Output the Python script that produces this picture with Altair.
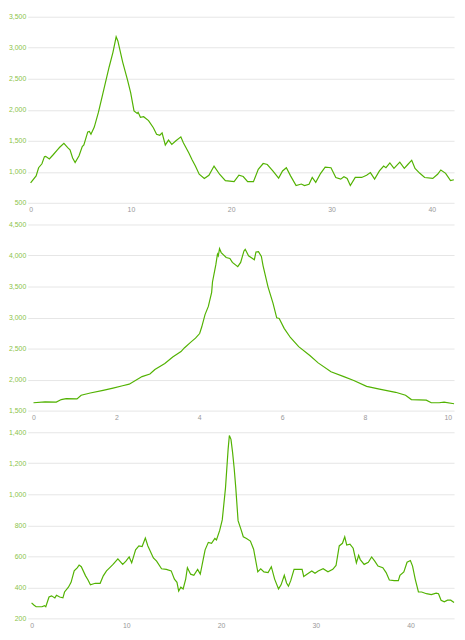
import altair as alt
import pandas as pd

# ---- Profile 1 ----
km1 = [0.0, 0.55, 0.8, 1.13, 1.38, 1.5, 1.87, 2.25, 2.67, 2.9, 3.32, 3.7, 3.93, 4.19, 4.44, 4.83, 5.15, 5.31,
       5.7, 5.86, 6.02, 6.35, 6.76, 7.18, 7.83, 8.21, 8.53, 8.7, 9.18, 9.66, 9.98, 10.31, 10.63, 10.72, 10.95,
       11.27, 11.76, 12.24, 12.56, 12.88, 13.11, 13.43, 13.75, 14.08, 14.49, 14.98, 15.23, 15.78, 16.1, 16.43,
       16.81, 17.32, 17.78, 18.29, 18.84, 19.42, 20.29, 20.77, 21.2, 21.64, 22.22, 22.7, 23.19, 23.6, 24.15,
       24.73, 25.12, 25.5, 25.92, 26.47, 26.99, 27.31, 27.76, 28.08, 28.43, 28.92, 29.37, 29.95, 30.43, 30.92,
       31.24, 31.56, 31.88, 32.37, 33.01, 33.5, 33.88, 34.3, 34.78, 35.2, 35.43, 35.82, 36.23, 36.81, 37.26,
       37.61, 38.0, 38.33, 38.81, 39.29, 40.1, 40.58, 40.9, 41.38, 41.87, 42.2]
el1 = [820, 935, 1066, 1129, 1245, 1250, 1207, 1275, 1354, 1396, 1459, 1391, 1354, 1223, 1150, 1259, 1407, 1432,
       1643, 1652, 1605, 1721, 1957, 2245, 2690, 2926, 3177, 3110, 2769, 2481, 2272, 1982, 1941, 1960, 1879,
       1888, 1825, 1710, 1605, 1590, 1627, 1432, 1511, 1443, 1501, 1564, 1470, 1302, 1196, 1093,
       961, 893, 945, 1093, 961, 857, 841, 945, 924, 841, 841, 1039, 1134, 1118, 1014,
       898, 1014, 1066, 935, 778, 803, 778, 799, 909, 830, 976, 1077, 1066, 909, 882,
       920, 893, 778, 909, 909, 945, 987, 882, 1014, 1093, 1066, 1144, 1055, 1155, 1055,
       1118, 1187, 1055, 976, 909, 893, 961, 1030, 976, 857, 872]

# ---- Profile 2 ----
km2 = [0.0, 0.28, 0.55, 0.67, 0.79, 1.05, 1.15, 1.37, 1.68, 1.92, 2.15, 2.31, 2.62, 2.81, 2.93, 3.17, 3.36, 3.56,
       3.64, 3.79, 3.91, 4.01, 4.06, 4.14, 4.22, 4.3, 4.32, 4.4, 4.44, 4.46, 4.49, 4.53, 4.65, 4.74, 4.8, 4.93,
       5.0, 5.08, 5.11, 5.19, 5.33, 5.37, 5.43, 5.5, 5.54, 5.66, 5.78, 5.87, 5.93, 6.05, 6.2, 6.4, 6.67, 6.87,
       7.18, 7.49, 7.73, 8.04, 8.35, 8.74, 8.98, 9.12, 9.48, 9.6, 9.79, 9.91, 10.15]
el2 = [1626, 1642, 1637, 1678, 1694, 1689, 1748, 1784, 1827, 1863, 1900, 1926, 2048, 2089, 2163, 2258, 2364, 2452,
       2510, 2600, 2668, 2742, 2847, 3047, 3179, 3406, 3573, 3848, 4022, 3995, 4110, 4047, 3968, 3952, 3889, 3821,
       3889, 4074, 4100, 3995, 3932, 4058, 4063, 3984, 3837, 3495, 3232, 2995, 2984, 2826, 2679, 2531, 2389, 2269,
       2127, 2048, 1985, 1890, 1847, 1795, 1748, 1678, 1669, 1626, 1626, 1637, 1610]

# ---- Profile 3 ----
km3 = [0.0, 0.24, 0.48, 1.1, 1.36, 1.5, 1.84, 2.11, 2.46, 2.63, 2.97, 3.31, 3.48, 3.89, 4.17, 4.5, 4.84, 5.02,
       5.25, 5.7, 5.96, 6.21, 6.72, 7.24, 7.57, 7.91, 8.26, 8.6, 9.11, 9.62, 9.96, 10.3, 10.57, 10.98, 11.33,
       11.67, 12.01, 12.28, 12.86, 13.2, 13.72, 14.23, 14.74, 15.08, 15.35, 15.53, 15.76, 16.0, 16.27, 16.45,
       16.79, 17.13, 17.53, 17.81, 18.15, 18.32, 18.66, 19.0, 19.35, 19.52, 19.86, 20.13, 20.47, 20.75, 20.88,
       21.05, 21.22, 21.39, 21.56, 21.8, 22.14, 22.35, 22.69, 23.1, 23.44, 23.88, 24.19, 24.53, 24.97, 25.31,
       25.66, 26.07, 26.34, 26.68, 26.92, 27.12, 27.36, 27.71, 28.22, 28.56, 28.73, 29.07, 29.58, 29.92, 30.26,
       30.78, 31.29, 31.8, 32.14, 32.48, 32.82, 33.06, 33.27, 33.61, 33.95, 34.29, 34.53, 34.7, 35.11, 35.55,
       35.9, 36.23, 36.57, 37.08, 37.43, 37.77, 38.28, 38.72, 38.89, 39.3, 39.64, 39.99, 40.22, 40.5, 40.84,
       41.18, 41.69, 42.2, 42.71, 42.96, 43.23, 43.57, 43.91, 44.25, 44.6]
el3 = [300, 286, 275, 275, 282, 275, 338, 345, 332, 349, 338, 332, 370, 401, 432, 506, 527, 544,
       533, 474, 447, 416, 426, 426, 474, 506, 527, 548, 583, 548, 569, 596, 558, 642, 667,
       663, 718, 667, 590, 569, 520, 516, 506, 453, 432, 376, 401, 390, 453, 527,
       485, 478, 516, 485, 590, 642, 690, 684, 715, 705, 767, 835, 1040, 1291, 1379,
       1354, 1270, 1166, 1040, 830, 767, 726, 715, 698, 646, 500, 520, 500, 495, 533,
       453, 390, 416, 478, 428, 407, 443, 516, 516, 516, 470, 485, 506, 491, 506,
       520, 500, 516, 541, 667, 684, 726, 673, 679, 652, 558, 606, 579, 548, 562,
       596, 569, 537, 527, 495, 447, 443, 443, 478, 500, 562, 573, 537, 453, 370,
       370, 359, 353, 363, 359, 317, 307, 317, 317, 303]

x_ticks1 = [0, 10, 20, 30, 40]
x_ticks2 = [0, 2, 4, 6, 8, 10]
x_ticks3 = [0, 10, 20, 30, 40]
y_ticks1 = [500, 1000, 1500, 2000, 2500, 3000, 3500]
y_ticks2 = [1500, 2000, 2500, 3000, 3500, 4000, 4500]
y_ticks3 = [200, 400, 600, 800, 1000, 1200, 1400]

LINE = "#52b202"
W = 433
H = 189


def profile(km, el, xdom, xt, yt):
    df = pd.DataFrame({"km": km, "elev": el})
    return alt.Chart(df).mark_line(color=LINE, strokeWidth=1.2).encode(
        x=alt.X("km:Q", title=None,
                scale=alt.Scale(domain=xdom, nice=False, zero=False),
                axis=alt.Axis(values=xt, format="d", labelFlush=False, labelPadding=3)),
        y=alt.Y("elev:Q", title=None,
                scale=alt.Scale(domain=[yt[0], yt[-1]], nice=False, zero=False),
                axis=alt.Axis(values=yt, format=",.0f", labelPadding=2)),
    ).properties(width=W, height=H)


c1 = profile(km1, el1, [-0.29, 42.22], x_ticks1, y_ticks1)
c2 = profile(km2, el2, [-0.14, 10.15], x_ticks2, y_ticks2)
c3 = profile(km3, el3, [-0.41, 44.6], x_ticks3, y_ticks3)

chart = alt.vconcat(c1, c2, c3, spacing=22, bounds="flush").properties(
    padding={"left": 0, "top": 0, "right": 0, "bottom": 0}
).configure_view(stroke=None).configure_axis(
    labelFont="Liberation Sans", labelFontSize=7, domain=False, ticks=False,
    gridColor="#e6e6e6", gridWidth=1,
).configure_axisY(labelColor="#8bc34a").configure_axisX(
    labelColor="#999999", grid=False
)

chart.save("out.html", embed_options={"renderer": "svg", "actions": False})
